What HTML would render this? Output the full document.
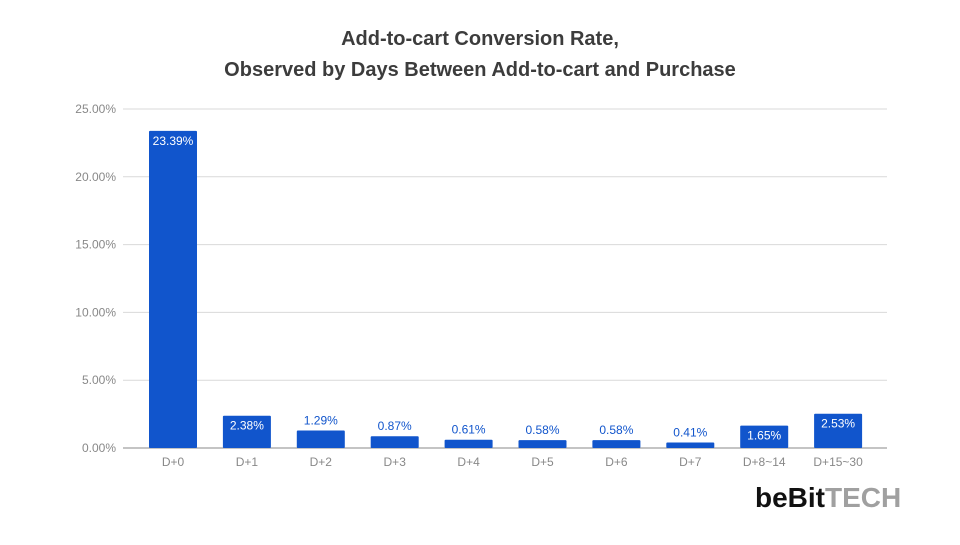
<!DOCTYPE html>
<html><head><meta charset="utf-8"><style>
body{margin:0;background:#fff;width:960px;height:540px;overflow:hidden;font-family:"Liberation Sans",sans-serif}
</style></head><body>
<svg id="chart" width="960" height="540" xmlns="http://www.w3.org/2000/svg">
<text x="480" y="45" text-anchor="middle" font-size="20" font-weight="bold" fill="#3c3c3c">Add-to-cart Conversion Rate,</text>
<text x="480" y="76" text-anchor="middle" font-size="20" font-weight="bold" fill="#3c3c3c">Observed by Days Between Add-to-cart and Purchase</text>
<g id="grid"></g><g id="bars"></g><g id="labels"></g>
<g>
<text x="755" y="507" font-size="28" font-weight="bold" fill="#111">beBit<tspan fill="#a0a0a0">TECH</tspan></text>
</g>
</svg>
<script>
const categories=["D+0","D+1","D+2","D+3","D+4","D+5","D+6","D+7","D+8~14","D+15~30"];
const values=[23.39,2.38,1.29,0.87,0.61,0.58,0.58,0.41,1.65,2.53];
const ticks=[0,5,10,15,20,25];
const NS="http://www.w3.org/2000/svg";
const y0=448,y1=109,maxV=25;
const y=v=>y0-(v/maxV)*(y0-y1);
const x=i=>173+i*73.9;
const bw=48;
function mk(t,a,p){const e=document.createElementNS(NS,t);for(const k in a)e.setAttribute(k,a[k]);p.appendChild(e);return e;}
const grid=document.getElementById('grid'),bars=document.getElementById('bars'),labels=document.getElementById('labels');
ticks.forEach(t=>{
 const l=mk('line',{x1:123,x2:887,y1:y(t),y2:y(t),stroke:t===0?'#888':'#d9d9d9','stroke-width':1},grid);
 
 
 const tx=mk('text',{x:116,y:y(t)+4,'text-anchor':'end','font-size':12,fill:'#888'},grid);
 tx.textContent=t.toFixed(2)+'%';
 
 
});
categories.forEach((c,i)=>{
 const v=values[i],top=y(v);
 const r=mk('rect',{x:x(i)-bw/2,y:top,width:bw,height:y0-top,fill:'#1155cc',rx:1},bars);
 
 
 const inside=(y0-top)>18;
 const lt=mk('text',{x:x(i),y:inside?top+14:top-6,'text-anchor':'middle','font-size':12,fill:inside?'#fff':'#1155cc'},labels);
 lt.textContent=v.toFixed(2)+'%';
 
 
 const xt=mk('text',{x:x(i),y:466,'text-anchor':'middle','font-size':12,fill:'#888'},labels);
 xt.textContent=c;
 
 
});
</script>
</body></html>
